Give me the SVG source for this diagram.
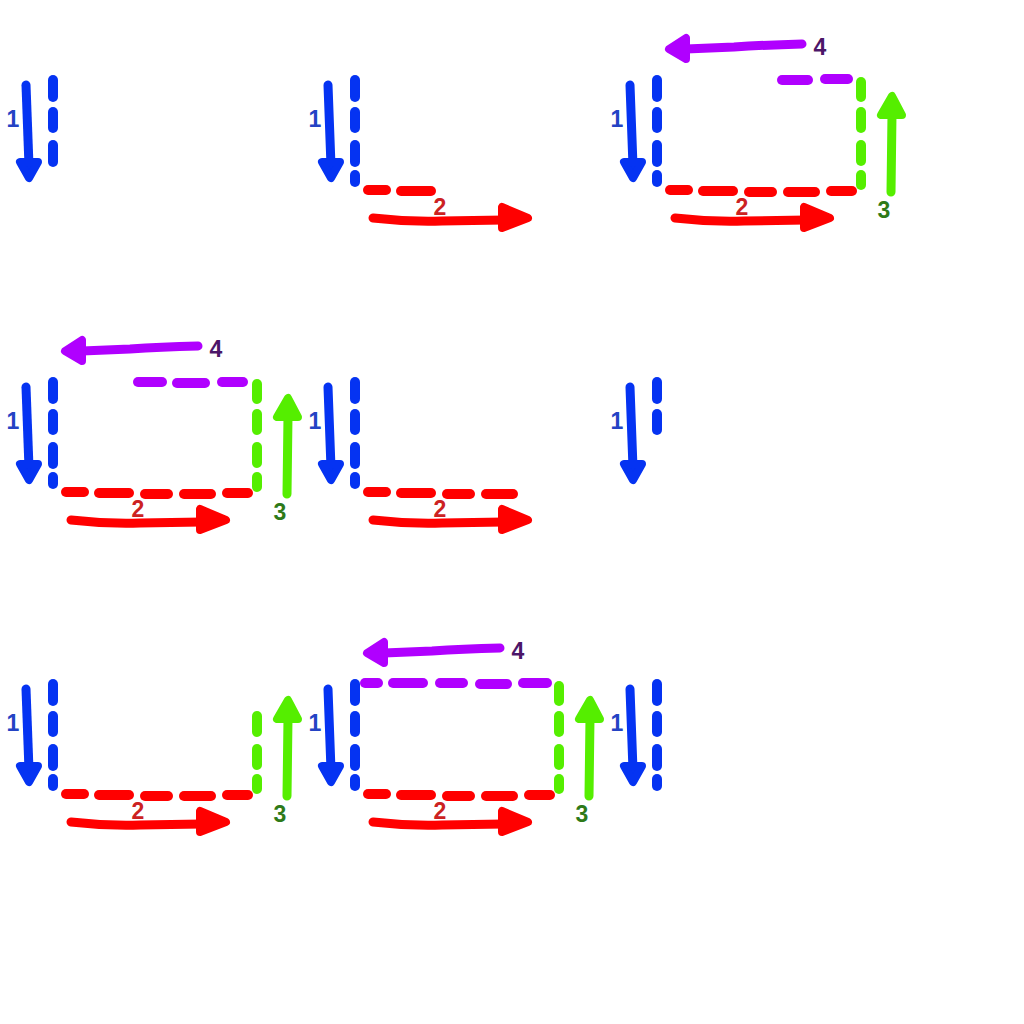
<svg xmlns="http://www.w3.org/2000/svg" xmlns:xlink="http://www.w3.org/1999/xlink" width="1024" height="1024" viewBox="0 0 1024 1024">
<style>
.s{fill:none;stroke-width:9;stroke-linecap:round;stroke-linejoin:round}
.d{fill:none;stroke-width:10;stroke-linecap:round}
.h{stroke-width:8;stroke-linejoin:round}
.b{stroke:#0533f2}.bf{fill:#0533f2}
.r{stroke:#ff0000}.rf{fill:#ff0000}
.g{stroke:#55ee00}.gf{fill:#55ee00}
.p{stroke:#b000ff}.pf{fill:#b000ff}
.t{font-family:"Liberation Sans",Arial,sans-serif;font-size:23px;font-weight:bold;text-anchor:middle}
.t1{fill:#2443c4}.t2{fill:#cc2222}.t3{fill:#2e7a18}.t4{fill:#4c1668}
</style>
<defs>
<g id="arr1"><path class="s b" d="M26,85 L29,166"/><polygon class="h b bf" points="20,162 38,162 29,178"/></g>
<g id="arr2"><path class="s r" d="M71,218 Q105,222 140,221 L202,220"/><polygon class="h r rf" points="200,207 200,228 226,218"/></g>
<g id="arr3"><path class="s g" d="M287,192 L288,114"/><polygon class="h g gf" points="277,115 298,115 288,96"/></g>
<g id="arr4"><path class="s p" d="M198,44 Q160,45 130,47 L82,49"/><polygon class="h p pf" points="82,38 82,59 65,49"/></g>
<g id="bd3"><line class="d b" x1="53" y1="80" x2="53" y2="97"/><line class="d b" x1="53" y1="112" x2="53" y2="128"/><line class="d b" x1="53" y1="145" x2="53" y2="162"/></g>
<g id="bd4"><use xlink:href="#bd3"/><line class="d b" x1="53" y1="175" x2="53" y2="182"/></g>
<g id="rd2"><line class="d r" x1="66" y1="190" x2="84" y2="190"/><line class="d r" x1="99" y1="191" x2="129" y2="191"/></g>
<g id="rd4"><use xlink:href="#rd2"/><line class="d r" x1="145" y1="192" x2="168" y2="192"/><line class="d r" x1="184" y1="192" x2="211" y2="192"/></g>
<g id="rd5"><use xlink:href="#rd4"/><line class="d r" x1="227" y1="191" x2="248" y2="191"/></g>
<g id="gd3"><line class="d g" x1="257" y1="112" x2="257" y2="128"/><line class="d g" x1="257" y1="145" x2="257" y2="161"/><line class="d g" x1="257" y1="175" x2="257" y2="185"/></g>
<g id="gd4"><line class="d g" x1="257" y1="82" x2="257" y2="97"/><use xlink:href="#gd3"/></g>
</defs>
<rect width="1024" height="1024" fill="#ffffff"/>

<g id="panel-1">
<use xlink:href="#arr1"/><use xlink:href="#bd3"/>
<text class="t t1" x="13" y="127">1</text>
</g>

<g id="panel-2" transform="translate(302,0)">
<use xlink:href="#arr1"/><use xlink:href="#bd4"/><use xlink:href="#rd2"/><use xlink:href="#arr2"/>
<text class="t t1" x="13" y="127">1</text>
<text class="t t2" x="138" y="215">2</text>
</g>

<g id="panel-3" transform="translate(604,0)">
<use xlink:href="#arr1"/><use xlink:href="#bd4"/><use xlink:href="#rd5"/><use xlink:href="#arr2"/>
<use xlink:href="#gd4"/><use xlink:href="#arr3"/>
<line class="d p" x1="178" y1="80" x2="204" y2="80"/><line class="d p" x1="221" y1="79" x2="244" y2="79"/>
<use xlink:href="#arr4"/>
<text class="t t1" x="13" y="127">1</text>
<text class="t t2" x="138" y="215">2</text>
<text class="t t3" x="280" y="218">3</text>
<text class="t t4" x="216" y="55">4</text>
</g>

<g id="panel-4" transform="translate(0,302)">
<use xlink:href="#arr1"/><use xlink:href="#bd4"/><use xlink:href="#rd5"/><use xlink:href="#arr2"/>
<use xlink:href="#gd4"/><use xlink:href="#arr3"/>
<line class="d p" x1="138" y1="80" x2="162" y2="80"/><line class="d p" x1="177" y1="81" x2="205" y2="81"/><line class="d p" x1="222" y1="80" x2="243" y2="80"/>
<use xlink:href="#arr4"/>
<text class="t t1" x="13" y="127">1</text>
<text class="t t2" x="138" y="215">2</text>
<text class="t t3" x="280" y="218">3</text>
<text class="t t4" x="216" y="55">4</text>
</g>

<g id="panel-5" transform="translate(302,302)">
<use xlink:href="#arr1"/><use xlink:href="#bd4"/><use xlink:href="#rd4"/><use xlink:href="#arr2"/>
<text class="t t1" x="13" y="127">1</text>
<text class="t t2" x="138" y="215">2</text>
</g>

<g id="panel-6" transform="translate(604,302)">
<use xlink:href="#arr1"/>
<line class="d b" x1="53" y1="80" x2="53" y2="97"/><line class="d b" x1="53" y1="112" x2="53" y2="128"/>
<text class="t t1" x="13" y="127">1</text>
</g>

<g id="panel-7" transform="translate(0,604)">
<use xlink:href="#arr1"/><use xlink:href="#bd4"/><use xlink:href="#rd5"/><use xlink:href="#arr2"/>
<use xlink:href="#gd3"/><use xlink:href="#arr3"/>
<text class="t t1" x="13" y="127">1</text>
<text class="t t2" x="138" y="215">2</text>
<text class="t t3" x="280" y="218">3</text>
</g>

<g id="panel-8" transform="translate(302,604)">
<use xlink:href="#arr1"/><use xlink:href="#bd4"/><use xlink:href="#rd5"/><use xlink:href="#arr2"/>
<use xlink:href="#gd4"/><use xlink:href="#arr3"/>
<line class="d p" x1="63" y1="79" x2="76" y2="79"/><line class="d p" x1="91" y1="79" x2="121" y2="79"/><line class="d p" x1="138" y1="79" x2="161" y2="79"/><line class="d p" x1="178" y1="80" x2="205" y2="80"/><line class="d p" x1="221" y1="79" x2="245" y2="79"/>
<use xlink:href="#arr4"/>
<text class="t t1" x="13" y="127">1</text>
<text class="t t2" x="138" y="215">2</text>
<text class="t t3" x="280" y="218">3</text>
<text class="t t4" x="216" y="55">4</text>
</g>

<g id="panel-9" transform="translate(604,604)">
<use xlink:href="#arr1"/><use xlink:href="#bd4"/>
<text class="t t1" x="13" y="127">1</text>
</g>
</svg>
